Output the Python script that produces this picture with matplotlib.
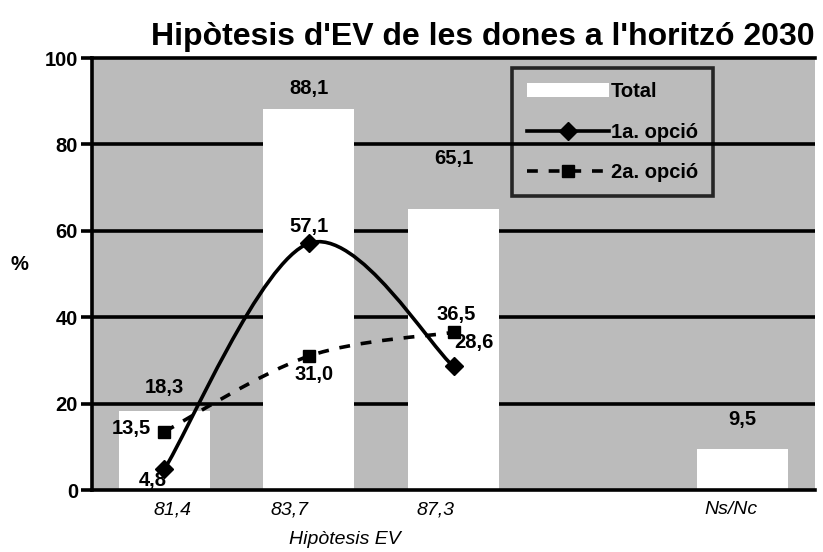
import matplotlib
matplotlib.use("Agg")
import matplotlib.pyplot as plt
from matplotlib.path import Path
from matplotlib.patches import PathPatch, Patch
from matplotlib.lines import Line2D
import matplotlib.transforms as mtransforms
import numpy as np

plt.rcParams['font.family'] = ['Liberation Sans', 'DejaVu Sans']

categories = ["81,4", "83,7", "87,3", "", "Ns/Nc"]
total = [18.3, 88.1, 65.1, None, 9.5]
opcio1 = [4.8, 57.1, 28.6]
opcio2 = [13.5, 31.0, 36.5]
yticks = [0, 20, 40, 60, 80, 100]

title = "Hipòtesis d'EV de les dones a l'horitzó 2030"
xlabel = "Hipòtesis EV"
ylabel = "%"
legend_labels = ["Total", "1a. opció", "2a. opció"]

def fmt(v):
    return f"{v:.1f}".replace(".", ",")

def smooth_path(xs, ys):
    pts = np.column_stack([xs, ys]).astype(float)
    n = len(pts)
    verts = [pts[0]]
    codes = [Path.MOVETO]
    for i in range(n - 1):
        p_prev = pts[i - 1] if i > 0 else pts[i]
        p0 = pts[i]
        p1 = pts[i + 1]
        p_next = pts[i + 2] if i + 2 < n else pts[i + 1]
        c1 = p0 + (p1 - p_prev) / 6.0
        c2 = p1 - (p_next - p0) / 6.0
        verts += [c1, c2, p1]
        codes += [Path.CURVE4] * 3
    return Path(verts, codes)

fig = plt.figure(figsize=(8.23, 5.52), dpi=100)
ax = fig.add_axes([92/823, 1 - 490/552, 723/823, 432/552])
bg = '#bbbbbb'
ax.set_facecolor(bg)
fig.patch.set_facecolor('white')

x = np.arange(len(categories))
bx = [xi for xi, v in zip(x, total) if v is not None]
bv = [v for v in total if v is not None]
ax.bar(bx, bv, width=0.63, color='white', edgecolor='none', zorder=1)

ax.set_xlim(-0.5, len(categories) - 0.5)
ax.set_ylim(0, 100)
ax.set_yticks(yticks)
ax.set_yticklabels([str(t) for t in yticks], fontsize=14.5, fontweight='bold')
for t in yticks[1:-1]:
    ax.axhline(t, color='black', linewidth=2.6, zorder=0.8)

ax.set_xticks(x)
ax.set_xticklabels(categories, fontsize=14, fontstyle='italic')
ax.tick_params(axis='x', length=0, pad=8)
ax.tick_params(axis='y', length=8, width=2.6, pad=2)

xshift_px = [8, -19, -18, 0, -12]
for lbl, dx in zip(ax.get_xticklabels(), xshift_px):
    lbl.set_transform(lbl.get_transform() + mtransforms.ScaledTranslation(dx / 100, 0, fig.dpi_scale_trans))

for s in ['left', 'bottom', 'top']:
    ax.spines[s].set_linewidth(2.6)
    ax.spines[s].set_color('black')
ax.spines['right'].set_visible(False)

lx = x[:len(opcio1)]
p1 = smooth_path(lx, opcio1)
ax.add_patch(PathPatch(p1, facecolor='none', edgecolor='black', linewidth=2.6, zorder=3))
ax.plot(lx, opcio1, linestyle='none', marker='D', markersize=9, color='black', zorder=4)

p2 = smooth_path(lx, opcio2)
ax.add_patch(PathPatch(p2, facecolor='none', edgecolor='black', linewidth=2.6,
                       linestyle=(0, (3, 3)), zorder=3))
ax.plot(lx, opcio2, linestyle='none', marker='s', markersize=8, color='black', zorder=4)

lab = dict(fontsize=14.5, fontweight='bold', zorder=5, textcoords='offset points',
           ha='center', va='center')
tot_off = [(0, 17), (0, 15), (0, 36), None, (0, 21)]
for xi, v, off in zip(x, total, tot_off):
    if v is None:
        continue
    ax.annotate(fmt(v), (xi, v), xytext=off, **lab)
o1_off = [(-8, -8), (0, 12), (15, 17)]
for xi, v, off in zip(lx, opcio1, o1_off):
    ax.annotate(fmt(v), (xi, v), xytext=off, **lab)
o2_off = [(-24, 2), (4, -13), (2, 13)]
for xi, v, off in zip(lx, opcio2, o2_off):
    ax.annotate(fmt(v), (xi, v), xytext=off, **lab)

ax.set_title(title, fontsize=23, fontweight='bold', loc='right', pad=9)
ax.set_ylabel(ylabel, fontsize=14.5, fontweight='bold', rotation=0)
ax.yaxis.set_label_coords(-0.1, 0.5)
ax.set_xlabel(xlabel, fontsize=14, fontstyle='italic')
ax.xaxis.set_label_coords((345 - 92) / 723, -0.095)

handles = [Patch(facecolor='white', edgecolor='none'),
           Line2D([], [], color='black', linewidth=2.6, marker='D', markersize=9),
           Line2D([], [], color='black', linewidth=2.6, linestyle=(0, (3, 3)), marker='s', markersize=8)]
leg = ax.legend(handles, legend_labels, loc='upper left', bbox_to_anchor=(0.581, 0.977),
                prop={'size': 14.5, 'weight': 'bold'}, frameon=True, fancybox=False,
                edgecolor='black', handlelength=4.1,
                handletextpad=0.1, labelspacing=1.05, borderpad=0.72, borderaxespad=0)
leg.get_frame().set_linewidth(2.6)
leg.get_frame().set_facecolor('none')
leg.set_zorder(0.6)

fig.savefig("out.png", dpi=100)
